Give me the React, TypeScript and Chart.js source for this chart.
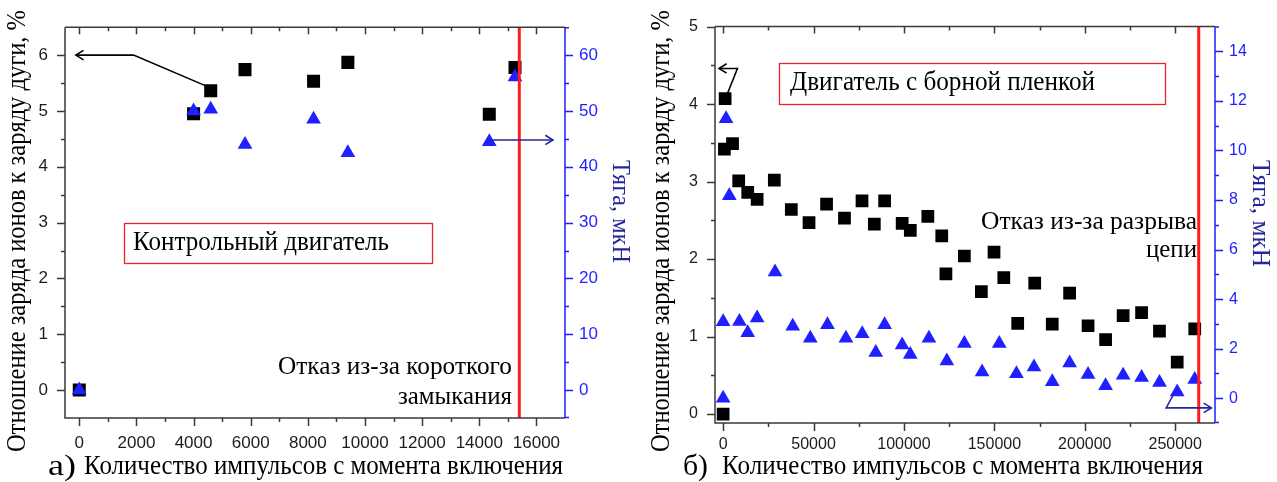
import React, { useEffect, useRef } from "react";
import { Chart, registerables } from "chart.js";

Chart.register(...registerables);

// ---------- Panel а) Контрольный двигатель ----------
const pulsesA = [0, 4000, 4600, 5800, 8200, 9400, 14350, 15250];
const ionRatioA = [0, 4.95, 5.36, 5.74, 5.53, 5.87, 4.94, 5.78];
const thrustA = [0, 50.0, 50.3, 44.0, 48.5, 42.5, 44.5, 56.1];
const failureA = 15400;
const xRangeA = [-500, 17000];
const yRangeA = [-0.5, 6.5];
const y2RangeA = [-5, 65];
const xTicksA = [0, 2000, 4000, 6000, 8000, 10000, 12000, 14000, 16000];
const xMinorA = [1000, 3000, 5000, 7000, 9000, 11000, 13000, 15000];
const yTicksA = [0, 1, 2, 3, 4, 5, 6];
const yMinorA = [0.5, 1.5, 2.5, 3.5, 4.5, 5.5];
const y2TicksA = [0, 10, 20, 30, 40, 50, 60];
const y2MinorA = [5, 15, 25, 35, 45, 55];
const ionArrowA = [[4470, 5.44], [1900, 6.0], [-120, 6.0]];
const thrustArrowA = [[14350, 44.8], [16580, 44.8]];

// ---------- Panel б) Двигатель с борной пленкой ----------
const pulsesIonB = [0, 700, 1100, 5200, 8600, 13600, 18800, 28300, 37700, 47500, 57200, 67100, 76800, 83600, 89300, 99000, 103500, 113200, 120900, 123200, 133400, 142800, 149800, 155200, 162900, 172300, 182000, 191600, 201800, 211500, 221200, 231400, 241300, 251100, 260800];
const ionRatioB = [0, 3.42, 4.07, 3.49, 3.01, 2.86, 2.77, 3.02, 2.64, 2.47, 2.71, 2.53, 2.75, 2.45, 2.75, 2.46, 2.37, 2.55, 2.30, 1.81, 2.04, 1.58, 2.09, 1.76, 1.17, 1.69, 1.16, 1.56, 1.14, 0.96, 1.27, 1.31, 1.07, 0.67, 1.10];
const pulsesThrustB = [0, 0, 1600, 3400, 9000, 13600, 18800, 28700, 38500, 48200, 57700, 67900, 76900, 84400, 89300, 99000, 103500, 113800, 123700, 133400, 143200, 152700, 162200, 171900, 182000, 191600, 201800, 211500, 221200, 231400, 241300, 251100, 260800];
const thrustB = [0, 3.09, 11.28, 8.17, 3.10, 2.64, 3.24, 5.09, 2.91, 2.42, 2.97, 2.42, 2.60, 1.85, 2.97, 2.15, 1.76, 2.42, 1.50, 2.21, 1.06, 2.21, 0.99, 1.26, 0.67, 1.42, 0.96, 0.50, 0.93, 0.84, 0.63, 0.25, 0.76];
const failureB = 263000;
const xRangeB = [-4500, 272000];
const yRangeB = [-0.115, 5];
const y2RangeB = [-1, 15];
const xTicksB = [0, 50000, 100000, 150000, 200000, 250000];
const xMinorB = [25000, 75000, 125000, 175000, 225000];
const yTicksB = [0, 1, 2, 3, 4, 5];
const yMinorB = [0.5, 1.5, 2.5, 3.5, 4.5];
const y2TicksB = [0, 2, 4, 6, 8, 10, 12, 14];
const y2MinorB = [1, 3, 5, 7, 9, 11, 13];
const ionArrowB = [[2300, 4.13], [7900, 4.46], [-2300, 4.46]];
const thrustArrowB = [[249000, 0.15], [245000, -0.39], [270000, -0.39]];

const yTitle = "Отношение заряда ионов к заряду дуги, %";
const y2Title = "Тяга, мкН";
const xTitle = "Количество импульсов с момента включения";

const BLUE = "#1f1fff";
const NAVY = "#26269c";
const AXIS = "#3a3a3a";
const RED = "#ff1c1c";
const SERIF = "'Liberation Serif', 'Times New Roman', serif";
const SANS = "'Liberation Sans', Arial, sans-serif";

type TextItem = {
  t: string; x: number; y: number; size: number; width?: number;
  align?: "left" | "right" | "center"; rot?: number; color?: string;
};

type PanelCfg = {
  xMajor: number[]; xMinor: number[]; yMajor: number[]; yMinor: number[];
  y2Major: number[]; y2Minor: number[];
  ionArrow: number[][]; thrustArrow: number[][];
  boxes: number[][]; texts: TextItem[];
};

function drawText(ctx: CanvasRenderingContext2D, it: TextItem) {
  ctx.save();
  ctx.font = `${it.size}px ${SERIF}`;
  ctx.fillStyle = it.color || "#000";
  ctx.textBaseline = "middle";
  const w = ctx.measureText(it.t).width;
  const sx = it.width ? it.width / w : 1;
  ctx.translate(it.x, it.y);
  if (it.rot) ctx.rotate((it.rot * Math.PI) / 180);
  ctx.scale(sx, 1);
  ctx.textAlign = it.align || "left";
  ctx.fillText(it.t, 0, 0);
  ctx.restore();
}

function arrowHead(ctx: CanvasRenderingContext2D, fx: number, fy: number, tx: number, ty: number) {
  const a = Math.atan2(ty - fy, tx - fx);
  const len = 9, ang = 0.55;
  ctx.beginPath();
  ctx.moveTo(tx - len * Math.cos(a - ang), ty - len * Math.sin(a - ang));
  ctx.lineTo(tx, ty);
  ctx.lineTo(tx - len * Math.cos(a + ang), ty - len * Math.sin(a + ang));
  ctx.stroke();
}

function polyArrow(ctx: CanvasRenderingContext2D, pts: number[][], xs: any, ys: any, color: string) {
  const p = pts.map(([vx, vy]) => [xs.getPixelForValue(vx), ys.getPixelForValue(vy)]);
  ctx.save();
  ctx.strokeStyle = color;
  ctx.lineWidth = 1.6;
  ctx.beginPath();
  p.forEach(([px, py], i) => (i ? ctx.lineTo(px, py) : ctx.moveTo(px, py)));
  ctx.stroke();
  const n = p.length;
  arrowHead(ctx, p[n - 2][0], p[n - 2][1], p[n - 1][0], p[n - 1][1]);
  ctx.restore();
}

function makePlugin(cfg: PanelCfg) {
  return {
    id: "decor",
    afterDatasetsDraw(chart: any) {
      const { ctx, chartArea: a, scales } = chart;
      const xs = scales.x, ys = scales.y, y2 = scales.y2;
      polyArrow(ctx, cfg.ionArrow, xs, ys, "#000");
      polyArrow(ctx, cfg.thrustArrow, xs, y2, NAVY);

      ctx.save();
      ctx.lineWidth = 1.5;
      ctx.strokeStyle = AXIS;
      ctx.beginPath();
      ctx.moveTo(a.left, a.top);
      ctx.lineTo(a.left, a.bottom);
      ctx.lineTo(a.right, a.bottom);
      ctx.moveTo(a.left, a.top);
      ctx.lineTo(a.right, a.top);
      ctx.stroke();
      ctx.beginPath();
      cfg.xMajor.forEach((v) => {
        const p = Math.round(xs.getPixelForValue(v)) + 0.5;
        ctx.moveTo(p, a.bottom); ctx.lineTo(p, a.bottom + 8);
        ctx.moveTo(p, a.top); ctx.lineTo(p, a.top + 7);
      });
      cfg.xMinor.forEach((v) => {
        const p = Math.round(xs.getPixelForValue(v)) + 0.5;
        ctx.moveTo(p, a.bottom); ctx.lineTo(p, a.bottom + 4);
        ctx.moveTo(p, a.top); ctx.lineTo(p, a.top + 4);
      });
      cfg.yMajor.forEach((v) => {
        const p = Math.round(ys.getPixelForValue(v)) + 0.5;
        ctx.moveTo(a.left, p); ctx.lineTo(a.left - 8, p);
      });
      cfg.yMinor.forEach((v) => {
        const p = Math.round(ys.getPixelForValue(v)) + 0.5;
        ctx.moveTo(a.left, p); ctx.lineTo(a.left - 4, p);
      });
      ctx.stroke();
      ctx.strokeStyle = BLUE;
      ctx.beginPath();
      ctx.moveTo(a.right, a.top);
      ctx.lineTo(a.right, a.bottom);
      cfg.y2Major.forEach((v) => {
        const p = Math.round(y2.getPixelForValue(v)) + 0.5;
        ctx.moveTo(a.right, p); ctx.lineTo(a.right + 8, p);
      });
      cfg.y2Minor.forEach((v) => {
        const p = Math.round(y2.getPixelForValue(v)) + 0.5;
        ctx.moveTo(a.right, p); ctx.lineTo(a.right + 4, p);
      });
      ctx.moveTo(a.right, a.top + 0.5); ctx.lineTo(a.right + 4, a.top + 0.5);
      ctx.moveTo(a.right, a.bottom - 0.5); ctx.lineTo(a.right + 4, a.bottom - 0.5);
      ctx.stroke();
      ctx.restore();
    },
    afterDraw(chart: any) {
      const ctx = chart.ctx as CanvasRenderingContext2D;
      ctx.save();
      ctx.strokeStyle = "#e8232a";
      ctx.lineWidth = 1.3;
      cfg.boxes.forEach(([x1, y1, x2, y2]) => {
        ctx.fillStyle = "#fff";
        ctx.fillRect(x1, y1, x2 - x1, y2 - y1);
        ctx.strokeRect(x1 + 0.5, y1 + 0.5, x2 - x1, y2 - y1);
      });
      ctx.restore();
      cfg.texts.forEach((it) => drawText(ctx, it));
    },
  };
}

function makeConfig(
  pulsesIon: number[], ion: number[], pulsesThr: number[], thr: number[], failure: number,
  xRange: number[], yRange: number[], y2Range: number[],
  xTicks: number[], yTicks: number[], y2Ticks: number[],
  layout: { top: number; left: number; right: number; bottom: number; xPad: number; font: number },
  sqR: number, triR: number, cfg: PanelCfg
): any {
  const tickFont = { family: SANS, size: layout.font };
  return {
    type: "scatter",
    data: {
      datasets: [
        {
          type: "line",
          data: [{ x: failure, y: yRange[0] }, { x: failure, y: yRange[1] }],
          borderColor: RED, borderWidth: 3, pointRadius: 0, yAxisID: "y", order: 0,
        },
        {
          data: pulsesThr.map((v, i) => ({ x: v, y: thr[i] })),
          yAxisID: "y2", pointStyle: "triangle", pointRadius: triR,
          backgroundColor: BLUE, borderColor: BLUE, borderWidth: 0, order: 1,
        },
        {
          data: pulsesIon.map((v, i) => ({ x: v, y: ion[i] })),
          yAxisID: "y", pointStyle: "rect", pointRadius: sqR,
          backgroundColor: "#000", borderColor: "#000", borderWidth: 0, order: 2,
        },
      ],
    },
    options: {
      animation: false,
      responsive: false,
      events: [],
      layout: { padding: { top: layout.top, left: 0, right: 0, bottom: 0 } },
      plugins: { legend: { display: false }, tooltip: { enabled: false } },
      scales: {
        x: {
          type: "linear", min: xRange[0], max: xRange[1],
          afterFit: (s: any) => { s.height = layout.bottom; },
          afterBuildTicks: (s: any) => { s.ticks = xTicks.map((v) => ({ value: v })); },
          grid: { display: false, drawTicks: false }, border: { display: false },
          ticks: { font: tickFont, color: "#1c1c1c", padding: layout.xPad, maxRotation: 0, autoSkip: false, callback: (v: any) => String(v) },
        },
        y: {
          type: "linear", position: "left", min: yRange[0], max: yRange[1],
          afterFit: (s: any) => { s.width = layout.left; },
          afterBuildTicks: (s: any) => { s.ticks = yTicks.map((v) => ({ value: v })); },
          grid: { display: false, drawTicks: false }, border: { display: false },
          ticks: { font: tickFont, color: "#1c1c1c", padding: 17, callback: (v: any) => String(v) },
        },
        y2: {
          type: "linear", position: "right", min: y2Range[0], max: y2Range[1],
          afterFit: (s: any) => { s.width = layout.right; },
          afterBuildTicks: (s: any) => { s.ticks = y2Ticks.map((v) => ({ value: v })); },
          grid: { display: false, drawTicks: false }, border: { display: false },
          ticks: { font: tickFont, color: BLUE, padding: 14, callback: (v: any) => String(v) },
        },
      },
    },
    plugins: [makePlugin(cfg)],
  };
}

const cfgA: PanelCfg = {
  xMajor: xTicksA, xMinor: xMinorA, yMajor: yTicksA, yMinor: yMinorA,
  y2Major: y2TicksA, y2Minor: y2MinorA, ionArrow: ionArrowA, thrustArrow: thrustArrowA,
  boxes: [[124, 223, 432, 263]],
  texts: [
    { t: "Контрольный двигатель", x: 133, y: 243, size: 27, width: 256 },
    { t: "Отказ из-за короткого", x: 512, y: 367, size: 26, width: 234, align: "right" },
    { t: "замыкания", x: 512, y: 397, size: 26, width: 114, align: "right" },
    { t: "а)", x: 48, y: 467, size: 29, width: 28 },
    { t: xTitle, x: 84, y: 467, size: 27, width: 479 },
    { t: yTitle, x: 18, y: 231, size: 27, width: 442, rot: -90, align: "center" },
    { t: y2Title, x: 620, y: 211.5, size: 26, width: 103, rot: 90, align: "center", color: NAVY },
  ],
};

const cfgB: PanelCfg = {
  xMajor: xTicksB, xMinor: xMinorB, yMajor: yTicksB, yMinor: yMinorB,
  y2Major: y2TicksB, y2Minor: y2MinorB, ionArrow: ionArrowB, thrustArrow: thrustArrowB,
  boxes: [[139, 63, 525, 104]],
  texts: [
    { t: "Двигатель с борной пленкой", x: 150, y: 83, size: 27, width: 305 },
    { t: "Отказ из-за разрыва", x: 557, y: 222, size: 26, width: 216, align: "right" },
    { t: "цепи", x: 557, y: 250, size: 26, width: 51, align: "right" },
    { t: "б)", x: 43, y: 467, size: 29, width: 25 },
    { t: xTitle, x: 82, y: 467, size: 27, width: 481 },
    { t: yTitle, x: 22, y: 231, size: 27, width: 442, rot: -90, align: "center" },
    { t: y2Title, x: 620, y: 213.5, size: 26, width: 107, rot: 90, align: "center", color: NAVY },
  ],
};

export default function App() {
  const refA = useRef<HTMLCanvasElement>(null);
  const refB = useRef<HTMLCanvasElement>(null);

  useEffect(() => {
    const chartA = new Chart(
      refA.current as HTMLCanvasElement,
      makeConfig(pulsesA, ionRatioA, pulsesA, thrustA, failureA, xRangeA, yRangeA, y2RangeA,
        xTicksA, yTicksA, y2TicksA, { top: 15, left: 65, right: 75, bottom: 64, xPad: 15, font: 17 }, 9.2, 8.5, cfgA)
    );
    const chartB = new Chart(
      refB.current as HTMLCanvasElement,
      makeConfig(pulsesIonB, ionRatioB, pulsesThrustB, thrustB, failureB, xRangeB, yRangeB, y2RangeB,
        xTicksB, yTicksB, y2TicksB, { top: 19, left: 75, right: 62, bottom: 59, xPad: 12, font: 16 }, 9, 8.5, cfgB)
    );
    return () => {
      chartA.destroy();
      chartB.destroy();
    };
  }, []);

  return (
    <div style={{ position: "absolute", left: 0, top: 0, width: 1277, height: 482, background: "#fff" }}>
      <canvas ref={refA} width={640} height={482} style={{ position: "absolute", left: 0, top: 0, width: 640, height: 482 }} />
      <canvas ref={refB} width={637} height={482} style={{ position: "absolute", left: 640, top: 0, width: 637, height: 482 }} />
    </div>
  );
}
